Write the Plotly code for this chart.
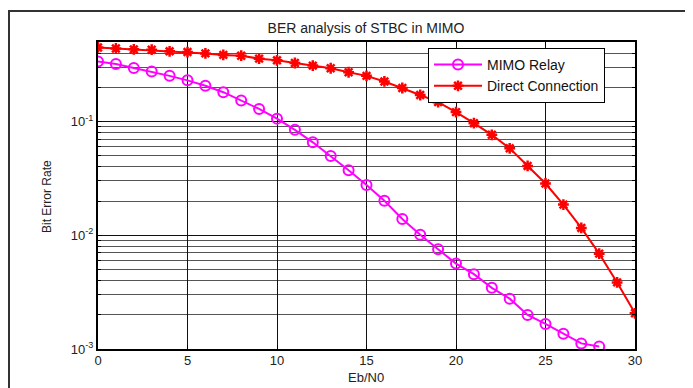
import plotly.graph_objects as go

# ---- data ----
ebn0_relay = list(range(0, 29))
ber_relay = [0.337, 0.321, 0.296, 0.275, 0.252, 0.230, 0.206, 0.181, 0.153, 0.129,
             0.106, 0.0845, 0.0656, 0.0498, 0.0373, 0.0276, 0.0201, 0.0139, 0.0101, 0.00752,
             0.00564, 0.00455, 0.00345, 0.00277, 0.00199, 0.00166, 0.00136, 0.00112, 0.00105]

ebn0_direct = list(range(0, 31))
ber_direct = [0.448, 0.439, 0.431, 0.428, 0.414, 0.408, 0.397, 0.385, 0.379, 0.357,
              0.345, 0.327, 0.310, 0.294, 0.271, 0.252, 0.225, 0.197, 0.171, 0.148,
              0.121, 0.0967, 0.0764, 0.0581, 0.0407, 0.0285, 0.0186, 0.0116, 0.00689, 0.00385,
              0.00206]

x_ticks = [0, 5, 10, 15, 20, 25, 30]
y_ticks = [1e-3, 1e-2, 1e-1]
y_ticktext = ["10<sup>-3</sup>", "10<sup>-2</sup>", "10<sup>-1</sup>"]
y_minor = [m * 10.0 ** e for e in (-3, -2, -1) for m in range(2, 10) if m * 10.0 ** e <= 0.5]

FONT = "Liberation Sans, Arial, sans-serif"

fig = go.Figure()
fig.add_trace(go.Scatter(
    x=ebn0_relay, y=ber_relay, name="MIMO Relay", mode="lines+markers",
    line=dict(color="#FF00FF", width=2),
    marker=dict(symbol="circle-open", size=10, color="#FF00FF", line=dict(width=2, color="#FF00FF")),
))
fig.add_trace(go.Scatter(
    x=ebn0_direct, y=ber_direct, name="Direct Connection", mode="lines+markers",
    line=dict(color="#FF0000", width=2),
    marker=dict(symbol="asterisk-open", size=9, color="#FF0000", line=dict(width=2.5, color="#FF0000")),
))

# page body has an 8px margin; work in screen coordinates and shift
OFF = 8
W, H = 693 - OFF, 388 - OFF
L, R, T, B = 98 - OFF, 635 - OFF, 42 - OFF, 349 - OFF
pw, ph = R - L, B - T

def px(sx):
    return (sx - OFF - L) / pw

def py(sy):
    return (B - (sy - OFF)) / ph

fig.update_layout(
    width=W, height=H,
    margin=dict(l=L, r=W - R, t=T, b=H - B, autoexpand=False),
    paper_bgcolor="white", plot_bgcolor="white",
    font=dict(family=FONT, size=13, color="#222"),
    title=dict(text="BER analysis of STBC in MIMO", x=(366 - OFF) / W, xanchor="center",
               xref="container",
               y=1 - (28 - OFF) / H, yanchor="middle", font=dict(size=14, color="#222")),
    showlegend=True,
    legend=dict(x=px(428), y=py(48), xanchor="left", yanchor="top",
                bgcolor="white", bordercolor="black", borderwidth=1,
                font=dict(size=14, color="#111"), itemwidth=48,
                tracegroupgap=0),
    xaxis=dict(
        range=[0, 30], tickvals=x_ticks, showline=True, linecolor="black", linewidth=2,
        mirror="allticks", ticks="inside", ticklen=4, tickcolor="black",
        showgrid=True, gridcolor="#111", gridwidth=1, zeroline=False, automargin=False,
        tickfont=dict(size=13), ticklabelstandoff=-2,
    ),
    yaxis=dict(
        type="log", range=[-3, 0.699 - 1.0], tickvals=y_ticks, ticktext=y_ticktext,
        showline=True, linecolor="black", linewidth=2, mirror="allticks",
        ticks="inside", ticklen=4, tickcolor="black",
        showgrid=True, gridcolor="#111", gridwidth=1, zeroline=False, automargin=False,
        minor=dict(tickvals=y_minor, showgrid=True, gridcolor="#555", gridwidth=1,
                   ticks="inside", ticklen=3, tickcolor="black"),
        tickfont=dict(size=13),
    ),
    annotations=[
        dict(text="Eb/N0", xref="paper", yref="paper", x=px(366), y=py(377),
             xanchor="center", yanchor="middle", showarrow=False, font=dict(size=13)),
        dict(text="Bit Error Rate", xref="paper", yref="paper", x=px(47), y=py(197),
             xanchor="center", yanchor="middle", showarrow=False, textangle=-90,
             font=dict(size=12)),
    ],
    shapes=[
        dict(type="line", xref="paper", yref="paper", x0=px(8), x1=px(693), y0=py(11), y1=py(11),
             line=dict(color="#333", width=2)),
        dict(type="line", xref="paper", yref="paper", x0=px(9), x1=px(9), y0=py(11), y1=py(388),
             line=dict(color="#333", width=2)),
    ],
)

fig.write_html("out.html")
